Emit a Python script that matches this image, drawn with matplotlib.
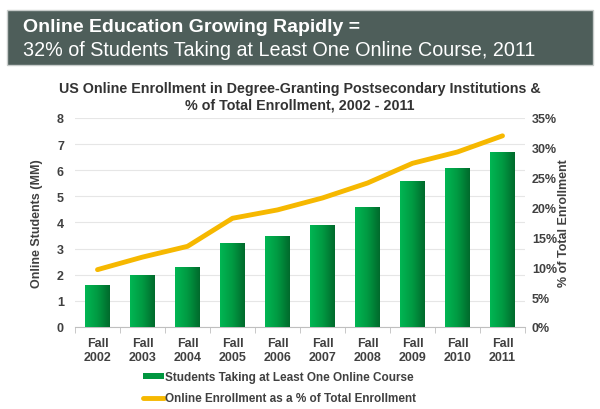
import matplotlib
matplotlib.use("Agg")
import matplotlib.pyplot as plt
import numpy as np
from matplotlib.patches import Rectangle
from matplotlib.colors import LinearSegmentedColormap

plt.rcParams['font.family'] = ['Liberation Sans', 'DejaVu Sans']

years = ["Fall\n2002", "Fall\n2003", "Fall\n2004", "Fall\n2005", "Fall\n2006",
         "Fall\n2007", "Fall\n2008", "Fall\n2009", "Fall\n2010", "Fall\n2011"]
students_mm = [1.6, 2.0, 2.3, 3.2, 3.5, 3.9, 4.6, 5.6, 6.1, 6.7]
pct_total = [9.6, 11.7, 13.5, 18.2, 19.6, 21.6, 24.1, 27.4, 29.3, 32.0]

txt = '#404040'
fig = plt.figure(figsize=(6, 4.1), dpi=100)

# header banner
fig.patches.append(Rectangle((0.012, 0.838), 0.976, 0.134, transform=fig.transFigure,
                             facecolor='#4e5e5a', edgecolor='#c8cccb', linewidth=1))
fig.text(0.038, 0.932, "Online Education Growing Rapidly =", color='white',
         fontsize=14, fontweight='bold', va='center')
fig.text(0.038, 0.876, "32% of Students Taking at Least One Online Course, 2011",
         color='white', fontsize=14.2, va='center')

fig.text(0.5, 0.762, "US Online Enrollment in Degree-Granting Postsecondary Institutions &\n"
         "% of Total Enrollment, 2002 - 2011", ha='center', va='center',
         fontsize=10.3, fontweight='bold', color='#333333', linespacing=1.25)

ax = fig.add_axes([0.125, 0.2, 0.75, 0.51])
x = np.arange(len(years))
bars = ax.bar(x, students_mm, width=0.55, color='#00a84a', zorder=2,
              label='Students Taking at Least One Online Course')
cmap = LinearSegmentedColormap.from_list('g', ['#00b653', '#009a42', '#006a2c'])
grad = np.linspace(0, 1, 64).reshape(1, -1)
for b in bars:
    im = ax.imshow(grad, cmap=cmap, aspect='auto', zorder=3,
                   extent=[b.get_x(), b.get_x() + b.get_width(), 0, b.get_height()])
    im.set_clip_path(b)

ax.set_xlim(-0.5, len(years) - 0.5)
ax.set_ylim(0, 8)
ax.set_yticks(range(0, 9))
ax.yaxis.grid(True, color='#e6e6e6', linewidth=0.8, zorder=0)
ax.set_axisbelow(True)
for s in ['top', 'right', 'left']:
    ax.spines[s].set_visible(False)
ax.spines['bottom'].set_color('#bfbfbf')
ax.set_xticks(x)
ax.set_xticklabels(years, fontsize=9, fontweight='bold', color=txt, linespacing=1.2)
ax.set_xticks(np.arange(-0.5, len(years), 1), minor=True)
ax.tick_params(axis='x', which='major', length=0, pad=7)
ax.tick_params(axis='x', which='minor', length=4, color='#bfbfbf')
ax.tick_params(axis='y', length=0, labelsize=9, labelcolor=txt, pad=8)
for t in ax.get_yticklabels():
    t.set_fontweight('bold')
ax.set_ylabel("Online Students (MM)", fontsize=9, fontweight='bold', color=txt, labelpad=10)

ax2 = ax.twinx()
line, = ax2.plot(x, pct_total, color='#f6b800', linewidth=3.5, solid_capstyle='round',
                 zorder=4, label='Online Enrollment as a % of Total Enrollment')
ax2.set_ylim(0, 35)
ax2.set_yticks(range(0, 36, 5))
ax2.set_yticklabels([f"{v}%" for v in range(0, 36, 5)])
for s in ['top', 'right', 'left', 'bottom']:
    ax2.spines[s].set_visible(False)
ax2.tick_params(axis='y', length=0, labelsize=9, labelcolor=txt, pad=5)
for t in ax2.get_yticklabels():
    t.set_fontweight('bold')
ax2.set_ylabel("% of Total Enrollment", fontsize=9, fontweight='bold', color=txt, labelpad=1)

handles = [Rectangle((0, 0), 1, 1, facecolor='#00963f'), line]
labels = ['Students Taking at Least One Online Course',
          'Online Enrollment as a % of Total Enrollment']
leg = fig.legend(handles, labels, loc='center left', bbox_to_anchor=(0.22, 0.052),
                 frameon=False, handlelength=1.8, handleheight=0.35,
                 handletextpad=0.1, labelspacing=0.8, prop={'weight': 'bold', 'size': 8.5})
for t in leg.get_texts():
    t.set_color(txt)

fig.savefig("out.png", dpi=100)
